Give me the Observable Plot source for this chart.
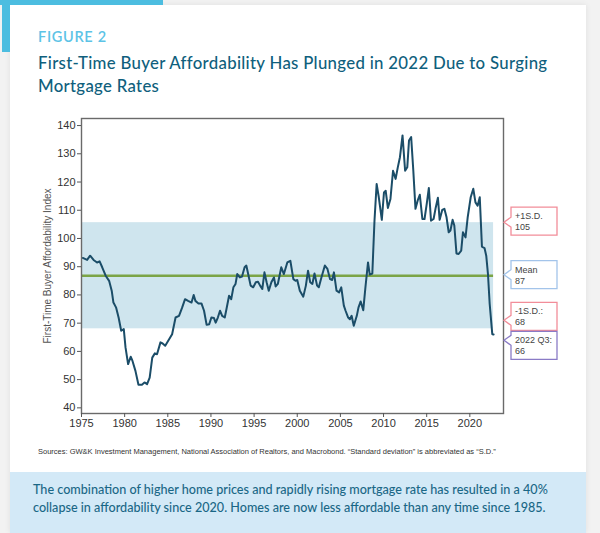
<!DOCTYPE html>
<html>
<head>
<meta charset="utf-8">
<script src="https://cdn.jsdelivr.net/npm/d3@7"></script>
<script src="https://cdn.jsdelivr.net/npm/@observablehq/plot@0.6"></script>
<style>
  html, body { margin: 0; padding: 0; }
  body { width: 600px; height: 533px; position: relative; overflow: hidden; background: #f2f2f2; font-family: Lato, "Open Sans", sans-serif; }
  #card { position: absolute; left: 10px; top: 5px; width: 576px; height: 528px; background: #fff; box-shadow: 0 0 6px rgba(0,0,0,0.08); }
  .accent { position: absolute; background: #4cbde0; }
  #fig { position: absolute; left: 38px; top: 28px; font-size: 14.5px; color: #5cc3e6; letter-spacing: 0.7px; font-weight: 600; }
  #title { position: absolute; left: 38px; top: 51px; width: 560px; font-size: 16.8px; line-height: 23px; letter-spacing: 0.3px; color: #0f5f7d; font-weight: 500; white-space: nowrap; }
  #chart { position: absolute; left: 0; top: 105px; }
  #src { position: absolute; left: 38px; top: 447px; font-family: "Liberation Sans", Arial, sans-serif; font-size: 7.5px; color: #333; white-space: nowrap; }
  #box { position: absolute; left: 10px; top: 472px; width: 576px; height: 61px; background: #d3e9f7; }
  #boxtext { position: absolute; left: 33px; top: 481px; font-size: 12.6px; line-height: 17.5px; color: #1a6786; white-space: nowrap; font-weight: 500; }
</style>
</head>
<body>
<div id="card"></div>
<div class="accent" style="left:0;top:0;width:163px;height:5px"></div>
<div class="accent" style="left:2px;top:0;width:8px;height:52px"></div>
<div id="fig">FIGURE 2</div>
<div id="title">First-Time Buyer Affordability Has Plunged in 2022 Due to Surging<br>Mortgage Rates</div>
<div id="chart"></div>
<div id="src">Sources: GW&amp;K Investment Management, National Association of Realtors, and Macrobond. “Standard deviation” is abbreviated as “S.D.”</div>
<div id="box"></div>
<div id="boxtext">The combination of higher home prices and rapidly rising mortgage rate has resulted in a 40%<br>collapse in affordability since 2020. Homes are now less affordable than any time since 1985.</div>
<script>
const years = [1975.15,1975.65,1976.0,1976.4,1976.8,1977.1,1977.4,1977.8,1978.2,1978.5,1978.7,1979.0,1979.3,1979.6,1979.9,1980.1,1980.4,1980.7,1980.9,1981.25,1981.6,1982.0,1982.3,1982.6,1982.9,1983.2,1983.5,1983.75,1984.15,1984.4,1984.7,1985.1,1985.5,1985.9,1986.3,1986.65,1987.0,1987.35,1987.75,1988.0,1988.2,1988.55,1988.9,1989.2,1989.5,1989.8,1990.05,1990.35,1990.55,1990.8,1991.05,1991.3,1991.6,1991.8,1992.1,1992.35,1992.6,1992.85,1993.05,1993.35,1993.6,1993.9,1994.1,1994.4,1994.6,1994.9,1995.2,1995.45,1995.7,1995.95,1996.2,1996.45,1996.7,1997.0,1997.3,1997.5,1997.75,1998.15,1998.45,1998.85,1999.2,1999.55,1999.8,2000.0,2000.3,2000.7,2001.0,2001.25,2001.5,2001.75,2002.0,2002.3,2002.5,2002.8,2003.2,2003.5,2003.8,2004.05,2004.25,2004.55,2004.85,2005.1,2005.4,2005.6,2005.9,2006.1,2006.3,2006.55,2006.9,2007.1,2007.35,2007.65,2007.9,2008.2,2008.4,2008.7,2008.95,2009.2,2009.45,2009.8,2010.05,2010.25,2010.5,2010.8,2011.1,2011.4,2011.65,2011.9,2012.2,2012.5,2012.75,2012.95,2013.2,2013.45,2013.7,2013.95,2014.2,2014.5,2014.75,2015.0,2015.25,2015.5,2015.8,2016.05,2016.3,2016.5,2016.8,2017.05,2017.3,2017.55,2017.75,2018.0,2018.2,2018.45,2018.7,2019.0,2019.2,2019.5,2019.75,2020.1,2020.4,2020.65,2020.9,2021.15,2021.4,2021.7,2021.9,2022.1,2022.3,2022.6,2022.75];
const values = [93.1,92.4,93.9,92.4,91.5,91.9,89.8,86.8,85.0,81.5,77.3,75.6,72.0,67.3,67.9,61.4,55.5,58.1,56.7,53.1,48.2,48.2,49.0,48.4,50.7,57.8,59.3,59.0,63.2,62.8,62.0,64.0,66.1,72.0,72.6,75.4,78.5,77.9,77.3,80.0,77.9,77.0,77.0,74.4,69.4,69.6,72.0,71.8,70.2,72.0,74.4,72.6,72.0,75.0,79.7,78.5,82.7,83.9,87.4,86.2,86.5,89.8,90.4,86.2,83.3,82.7,84.5,84.7,83.3,82.1,88.0,84.5,81.5,84.5,86.2,83.0,83.9,89.8,87.4,91.5,92.1,85.6,85.0,85.3,81.5,79.4,83.3,88.6,84.5,83.9,87.6,83.3,82.7,86.2,90.4,89.2,85.6,85.3,88.0,81.5,80.9,82.7,76.2,74.4,72.0,71.4,72.6,69.1,72.6,75.6,77.7,74.6,82.7,91.5,87.2,87.6,106.3,119.3,114.6,106.6,116.3,116.9,110.8,114.0,124.0,121.1,125.2,128.8,136.5,124.0,125.2,134.7,135.9,124.0,110.5,113.4,115.5,106.9,106.9,112.2,117.9,106.3,106.9,111.0,114.4,106.6,110.1,110.5,107.5,102.2,102.8,106.6,104.6,94.7,94.5,95.7,102.2,100.4,107.5,114.6,117.6,112.8,111.6,114.6,97.1,96.6,93.9,87.4,76.8,66.1,66.0];

const bandLow = 68, bandHigh = 105.6, meanValue = 86.8;
const xTicks = [1975,1980,1985,1990,1995,2000,2005,2010,2015,2020];
const yTicks = [40,50,60,70,80,90,100,110,120,130,140];

const calloutLine1 = ["+1S.D.", "Mean", "-1S.D.:", "2022 Q3:"];
const calloutLine2 = ["105", "87", "68", "66"];
const calloutValues = [105.6, 87, 68, 66];
const calloutColors = ["#f28d99", "#a3c4ea", "#f28d99", "#8a7bc6"];

const series = years.map((x, i) => ({x, y: values[i]}));
const xStart = 1975, xEnd = years[years.length - 1];

function callouts(index, scales, vals, dims) {
  const g = d3.create("svg:g").attr("text-anchor", "start")
    .attr("font-family", "'Liberation Sans', Arial, sans-serif");
  const boxLeft = dims.width - dims.marginRight + 8;
  const boxW = 46, boxH = 28;
  const ys = calloutValues.map(v => scales.y(v));
  const tops = [ys[0] - 15, ys[1] - 14, ys[2] - 26, ys[2] - 26 + boxH + 1];
  const arrows = [ys[0], ys[1], tops[2] + 18, tops[3] + 9];
  calloutValues.forEach((v, i) => {
    const t = tops[i], b = t + boxH, a = arrows[i], l = boxLeft, r = l + boxW;
    g.append("path")
      .attr("d", `M${l},${t}H${r}V${b}H${l}V${a + 5}L${l - 7},${a}L${l},${a - 5}Z`)
      .attr("fill", "#fff").attr("stroke", calloutColors[i]).attr("stroke-width", 1.3);
    g.append("text").attr("x", l + 4).attr("y", t + 12).text(calloutLine1[i])
      .attr("font-size", 9).attr("fill", "#444");
    g.append("text").attr("x", l + 4).attr("y", t + 23).text(calloutLine2[i])
      .attr("font-size", 9).attr("fill", "#444");
  });
  return g.node();
}

const chart = Plot.plot({
  width: 600,
  height: 340,
  marginLeft: 81,
  marginRight: 97,
  marginTop: 13,
  marginBottom: 32,
  style: { fontFamily: "'Liberation Sans', Arial, sans-serif", fontSize: "11px", color: "#333", background: "transparent", overflow: "visible" },
  x: { domain: [1975, 2023.9], label: null },
  y: { domain: [38, 142.5], label: null },
  marks: [
    Plot.rect([{x1: xStart, x2: xEnd, y1: bandLow, y2: bandHigh}], {x1: "x1", x2: "x2", y1: "y1", y2: "y2", fill: "#cfe5ee"}),
    Plot.ruleY([meanValue], {x1: xStart, x2: xEnd, stroke: "#7ba446", strokeWidth: 2.4}),
    Plot.line(series, {x: "x", y: "y", stroke: "#1b4d68", strokeWidth: 2, strokeLinejoin: "round"}),
    Plot.frame({stroke: "#6a6a6a", strokeWidth: 1.4}),
    Plot.axisX({ticks: xTicks, tickFormat: "d", tickSize: 4, tickPadding: 2, stroke: "#555", fill: "#333", fontSize: 11}),
    Plot.axisY({ticks: yTicks, tickSize: 4, tickPadding: 2, stroke: "#555", fill: "#333", fontSize: 11, label: null}),
    Plot.axisY({ticks: [], tickSize: 0, label: "First-Time Buyer Affordability Index", labelAnchor: "center", labelArrow: false, labelOffset: 38, fill: "#555", fontSize: 10}),
    callouts
  ]
});
document.getElementById("chart").appendChild(chart);
</script>
</body>
</html>
